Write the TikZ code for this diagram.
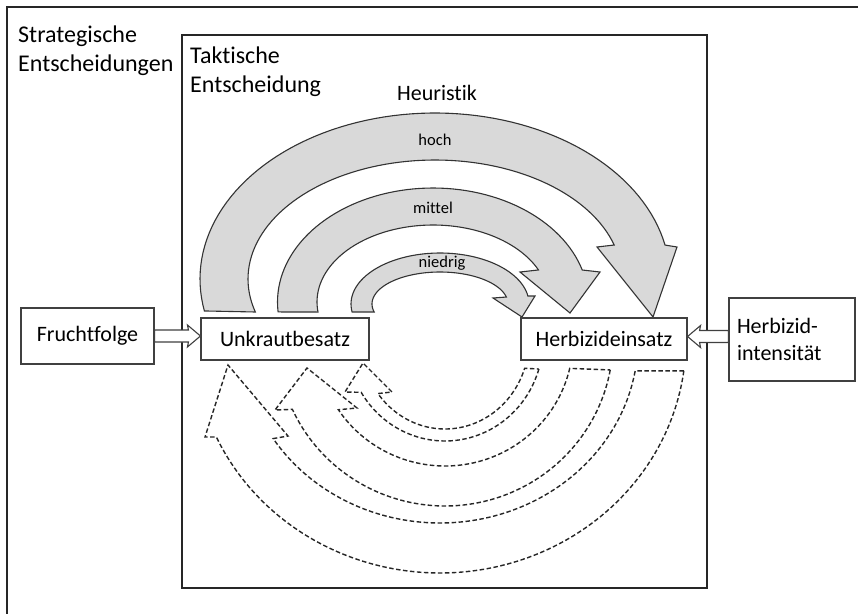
\documentclass[tikz,border=0pt]{standalone}
\usepackage{fontspec}
\setmainfont{Carlito}[Ligatures=NoCommon]
\usetikzlibrary{calc}
\begin{document}
\begin{tikzpicture}[x=1pt,y=-1pt,
  frame/.style={draw=black!85, line width=1.4pt},
  box/.style={draw=black!75, line width=1.1pt, fill=white, font=\fontsize{22}{27}\selectfont, inner sep=0pt},
  hdr/.style={font=\fontsize{24}{29}\selectfont, align=left, inner sep=0pt, anchor=north west},
  band/.style={draw=black!80, line width=1.1pt, fill=black!15, line join=miter},
  dband/.style={draw=black!85, line width=1.4pt, dash pattern=on 4.5pt off 2.5pt},
  blockarrow/.style={draw=black!75, line width=1.1pt, fill=white, line join=miter},
  lbl/.style={font=\fontsize{16.5}{20}\selectfont, inner sep=0pt}
]
\useasboundingbox (0,0) rectangle (858,613);
\clip (0,0) rectangle (858,613);
\fill[white] (0,0) rectangle (858,613);
\draw[frame] (7,7) rectangle (880,640);
\draw[frame] (182,35) rectangle (707,588);

\node[hdr] (strat) at (18,26) {Strategische\\Entscheidungen};
\node[hdr] (takt) at (190,47) {Taktische\\Entscheidung};
\node[font=\fontsize{22}{27}\selectfont, anchor=base, inner sep=0pt] (heur) at (437,100) {Heuristik};

% gray heuristic arrows
\draw[band] plot[domain=168.9:348.2, samples=80] ({435+235*cos(\x)},{279+166*sin(\x)})
  -- (677,247) -- (653,317) -- (597,247)
  -- plot[domain=343.4:163.9, samples=80] ({435+187*cos(\x)},{279+119*sin(\x)}) -- cycle;
\draw[band] plot[domain=175:343.7, samples=70] ({433+155.5*cos(\x)},{302+114*sin(\x)})
  -- (600,272) -- (570,313) -- (520,272)
  -- plot[domain=335.4:172.5, samples=70] ({433+116*cos(\x)},{302+77*sin(\x)}) -- cycle;
\draw[band] plot[domain=171:351, samples=60] ({440+89*cos(\x)},{304+51*sin(\x)})
  -- (535,296) -- (522,317) -- (493,298)
  -- plot[domain=347.4:165.5, samples=60] ({440+68*cos(\x)},{304+32*sin(\x)}) -- cycle;

\node[lbl] (hoch) at (435,140) {hoch};
\node[lbl] (mittel) at (433,208) {mittel};
\node[lbl] (niedrig) at (442,263) {niedrig};

% dashed feedback arrows
\draw[dband] plot[domain=7.6:155.4, samples=90] ({440+246*cos(\x)},{340+233*sin(\x)})
  -- (205,437) -- (228,365) -- (288,436)
  -- plot[domain=147.4:9.7, samples=90] ({440+198*cos(\x)},{340+183*sin(\x)}) -- cycle;
\draw[dband] plot[domain=10.4:155.3, samples=80] ({445+168*cos(\x)},{340+166*sin(\x)})
  -- (275,410) -- (307,368) -- (357,408)
  -- plot[domain=146.4:13, samples=80] ({445+128*cos(\x)},{340+126*sin(\x)}) -- cycle;
\draw[dband] plot[domain=16.7:148.8, samples=60] ({445+98*cos(\x)},{340+101*sin(\x)})
  -- (345,392) -- (363,363) -- (392,392)
  -- plot[domain=143:18.5, samples=60] ({445+84*cos(\x)},{340+89*sin(\x)}) -- cycle;

% boxes
\node[box, minimum width=133pt, minimum height=56pt] (frucht) at (87.5,336) {Fruchtfolge};
\node[box, minimum width=168pt, minimum height=42pt] (unkraut) at (285,339) {Unkrautbesatz};
\node[box, minimum width=166pt, minimum height=42pt] (heins) at (604,339) {Herbizideinsatz};
\node[box, minimum height=83pt, text width=110pt, inner xsep=8pt, align=left] (hint) at (792,339.5) {Herbizid-\\intensität};

% block arrows
\coordinate (t1) at (unkraut.west |- frucht.east);
\draw[blockarrow] ($(frucht.east)+(0,-6)$) -- ($(t1)+(-12,-6)$) -- ($(t1)+(-13,-11)$) -- (t1)
  -- ($(t1)+(-13,11)$) -- ($(t1)+(-12,6)$) -- ($(frucht.east)+(0,6)$) -- cycle;
\coordinate (s2) at ($(hint.west)+(0,-3)$);
\coordinate (t2) at (heins.east |- s2);
\draw[blockarrow] ($(s2)+(0,-6)$) -- ($(t2)+(12,-6)$) -- ($(t2)+(13,-11)$) -- (t2)
  -- ($(t2)+(13,11)$) -- ($(t2)+(12,6)$) -- ($(s2)+(0,6)$) -- cycle;
\end{tikzpicture}
\end{document}
